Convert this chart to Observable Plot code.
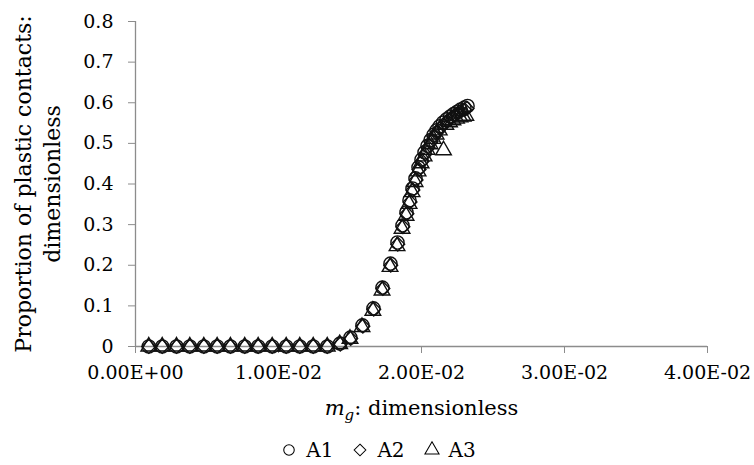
<!DOCTYPE html>
<html>
<head>
<meta charset="utf-8">
<script src="https://cdn.jsdelivr.net/npm/d3@7"></script>
<script src="https://cdn.jsdelivr.net/npm/@observablehq/plot@0.6"></script>
<style>
  html, body { margin: 0; padding: 0; background: #fff; }
  body { width: 754px; height: 465px; overflow: hidden; font-family: "DejaVu Serif", serif; }
  #legend { display: flex; justify-content: center; padding-top: 3px; padding-left: 24px; }
  #legend div, #legend span { font-family: "DejaVu Serif", serif !important; font-size: 20px !important; color: #000; }
</style>
</head>
<body>
<div id="chart"></div>
<div id="legend"></div>
<script>
// ---- data ----
const seriesNames = ["A1", "A2", "A3"];
const seriesSymbols = ["circle", "diamond2", "triangle"];

const mgA1 = [0.00093,0.00187,0.00287,0.00380,0.00478,0.00571,0.00664,0.00764,0.00858,0.00956,0.01054,0.01149,0.01243,0.01341,
  0.01430,0.01503,0.01587,0.01664,0.01727,0.01783,0.01832,0.01867,0.01895,0.01916,0.01937,0.01958,0.01979,0.02000,0.02021,
  0.02042,0.02063,0.02084,0.02105,0.02126,0.02150,0.02175,0.02200,0.02224,0.02250,0.02273,0.02300,0.02322];
const pA1 = [0,0,0,0,0,0,0,0,0,0,0,0,0,0,
  0.007,0.022,0.052,0.094,0.145,0.204,0.256,0.298,0.330,0.360,0.389,0.414,0.441,0.460,0.478,
  0.494,0.508,0.521,0.532,0.542,0.551,0.559,0.566,0.572,0.578,0.583,0.588,0.592];

const mgA2 = [0.00093,0.00187,0.00287,0.00380,0.00478,0.00571,0.00664,0.00764,0.00858,0.00956,0.01054,0.01149,0.01243,0.01341,
  0.01432,0.01505,0.01590,0.01666,0.01730,0.01785,0.01834,0.01870,0.01898,0.01920,0.01940,0.01962,0.01983,0.02004,0.02025,
  0.02046,0.02067,0.02088,0.02110,0.02132,0.02155,0.02180,0.02204,0.02228,0.02252,0.02276,0.02300,0.02318];
const pA2 = [0,0,0,0,0,0,0,0,0,0,0,0,0,0,
  0.006,0.020,0.050,0.092,0.143,0.200,0.252,0.295,0.327,0.356,0.385,0.410,0.436,0.456,0.474,
  0.490,0.504,0.517,0.528,0.538,0.547,0.555,0.562,0.568,0.574,0.579,0.583,0.586];

const mgA3 = [0.00093,0.00187,0.00287,0.00380,0.00478,0.00571,0.00664,0.00764,0.00858,0.00956,0.01054,0.01149,0.01243,0.01341,
  0.01428,0.01500,0.01584,0.01660,0.01724,0.01780,0.01829,0.01864,0.01892,0.01913,0.01934,0.01955,0.01976,0.01997,0.02018,
  0.02039,0.02060,0.02081,0.02102,0.02124,0.02154,0.02170,0.02196,0.02220,0.02245,0.02270,0.02292,0.02310];
const pA3 = [0,0,0,0,0,0,0,0,0,0,0,0,0,0,
  0.006,0.019,0.048,0.088,0.138,0.196,0.247,0.290,0.322,0.351,0.380,0.405,0.431,0.451,0.468,
  0.484,0.498,0.511,0.522,0.532,0.483,0.546,0.552,0.557,0.561,0.564,0.566,0.568];

const xTicks = [0, 0.01, 0.02, 0.03, 0.04];
const yTicks = [0, 0.1, 0.2, 0.3, 0.4, 0.5, 0.6, 0.7, 0.8];
const xTitle = "mg: dimensionless";
const yTitle = "Proportion of plastic contacts:\ndimensionless";

// ---- build tables ----
const toRows = (xs, ys, s) => xs.map((x, i) => ({mg: x, p: ys[i], series: s}));
const rowsA1 = toRows(mgA1, pA1, "A1");
const rowsA2 = toRows(mgA2, pA2, "A2");
const rowsA3 = toRows(mgA3, pA3, "A3");

const fmtSci = v => {
  if (v === 0) return "0.00E+00";
  const [m, e] = v.toExponential(2).split("e");
  const n = +e;
  return m + "E" + (n < 0 ? "-" : "+") + String(Math.abs(n)).padStart(2, "0");
};
const fmtY = v => v === 0 ? "0" : v.toFixed(1);

const axisGrey = "#8c8c8c";
const markStroke = "#111";

const chart = Plot.plot({
  width: 754,
  height: 430,
  marginLeft: 135,
  marginRight: 47,
  marginTop: 21,
  marginBottom: 84,
  style: {fontFamily: "DejaVu Serif, serif", fontSize: "19px", color: "#000", background: "#fff"},
  x: {domain: [0, 0.04], ticks: xTicks, tickFormat: fmtSci, label: null},
  y: {domain: [0, 0.8], ticks: yTicks, tickFormat: fmtY, label: null},
  marks: [
    Plot.ruleY([0], {stroke: axisGrey, strokeWidth: 1.3}),
    Plot.ruleX([0], {stroke: axisGrey, strokeWidth: 1.3}),
    Plot.axisX({ticks: xTicks, tickFormat: fmtSci, tickSize: 7, tickPadding: 12, stroke: axisGrey, fill: "#000", label: null, fontSize: 19}),
    Plot.axisY({ticks: yTicks, tickFormat: fmtY, tickSize: 7, tickPadding: 15, stroke: axisGrey, fill: "#000", label: null, fontSize: 19}),
    Plot.dot(rowsA3, {x: "mg", y: "p", symbol: () => seriesSymbols[2], r: 5.8, stroke: markStroke, strokeWidth: 1.4, fill: "none"}),
    Plot.dot(rowsA2, {x: "mg", y: "p", symbol: () => seriesSymbols[1], r: 6.2, stroke: markStroke, strokeWidth: 1.4, fill: "none"}),
    Plot.dot(rowsA1, {x: "mg", y: "p", symbol: () => seriesSymbols[0], r: 6.6, stroke: markStroke, strokeWidth: 1.4, fill: "none"}),
    Plot.text([yTitle], {frameAnchor: "left", dx: -99, rotate: -90, textAnchor: "middle", lineAnchor: "middle", lineHeight: 1.3, fontSize: 22, fill: "#000"}),
    Plot.text([xTitle], {frameAnchor: "bottom", dy: 68, fontSize: 21, fill: "#000", className: "xtitle"})
  ],
  symbol: {domain: seriesNames, range: seriesSymbols}
});

// italic m with subscript g in the x title
d3.select(chart).selectAll(".xtitle text").each(function () {
  const t = d3.select(this);
  t.text(null);
  t.append("tspan").attr("font-style", "italic").text("m");
  t.append("tspan").attr("font-style", "italic").attr("font-size", 15).attr("dy", 5).text("g");
  t.append("tspan").attr("dy", -5).text(": dimensionless");
});

document.getElementById("chart").appendChild(chart);

const legend = Plot.legend({
  symbol: {domain: seriesNames, range: seriesSymbols},
  r: 6,
  fill: "none",
  stroke: "#000",
  strokeWidth: 1.2,
  swatchSize: 14,
  style: {fontFamily: "DejaVu Serif, serif", fontSize: "20px", color: "#000", marginLeft: 0}
});
legend.style.justifyContent = "center";
document.getElementById("legend").appendChild(legend);
</script>
</body>
</html>
